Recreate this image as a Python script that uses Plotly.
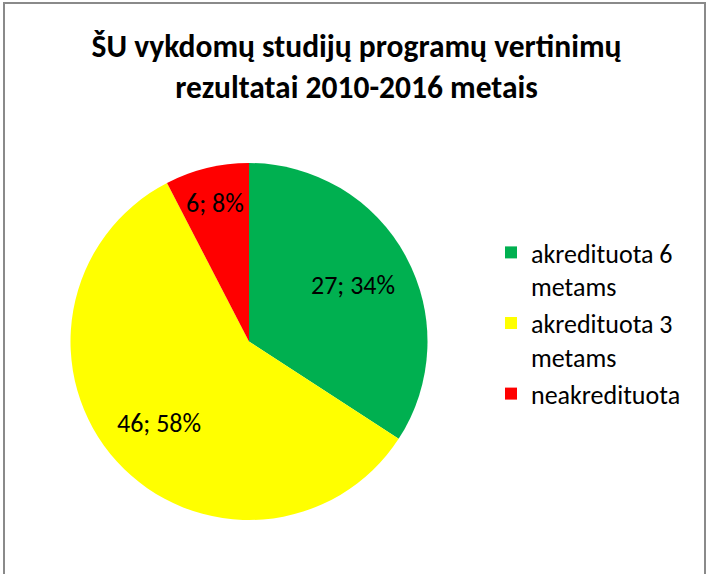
import math
import plotly.graph_objects as go

# Data
categories = ["akredituota 6<br>metams", "akredituota 3<br>metams", "neakredituota"]
values = [27, 46, 6]
colors = ["#00B050", "#FFFF00", "#FF0000"]
title_text = "<b>ŠU vykdomų studijų programų vertinimų<br>rezultatai 2010-2016 metais</b>"

# Styling: radial position of each data label (fraction of the radius)
label_r = [0.66, 0.68, 0.80]

W, H = 709, 574
FONT = "Carlito, Lato, sans-serif"

# Pie placement (pixels)
PCX, PCY, PR = 249.0, 341.5, 178.5
dom_x = [(PCX - PR) / W, (PCX + PR) / W]
dom_y = [1 - (PCY + PR) / H, 1 - (PCY - PR) / H]

fig = go.Figure(go.Pie(
    labels=categories,
    values=values,
    marker=dict(colors=colors, line=dict(width=0)),
    sort=False,
    direction="clockwise",
    rotation=0,
    textinfo="none",
    domain=dict(x=dom_x, y=dom_y),
    hoverinfo="label+value+percent",
))

# Data labels "value; percent" placed at each slice's mid angle
total = sum(values)
annotations = []
cum = 0
for v, rf in zip(values, label_r):
    mid = (cum + v / 2) / total * 2 * math.pi
    cum += v
    px = PCX + math.sin(mid) * PR * rf
    py = PCY - math.cos(mid) * PR * rf
    annotations.append(dict(
        x=px / W, y=1 - py / H, xref="paper", yref="paper",
        text=f"{v}; {round(100 * v / total)}%", showarrow=False,
        xanchor="center", yanchor="middle",
        font=dict(family=FONT, size=26, color="black")))

fig.update_layout(
    width=W, height=H,
    margin=dict(l=0, r=0, t=0, b=0),
    paper_bgcolor="white",
    plot_bgcolor="white",
    font=dict(family=FONT, color="black"),
    title=dict(text=title_text, x=356.5 / W, xanchor="center",
               y=1 - 57 / H, yanchor="middle", yref="container",
               font=dict(family=FONT, size=31.5, color="black")),
    showlegend=True,
    annotations=annotations,
    legend=dict(x=491 / W, xanchor="left", y=1 - 229 / H, yanchor="top",
                valign="top",
                font=dict(family=FONT, size=26, color="black"),
                bgcolor="rgba(0,0,0,0)", itemclick=False),
    shapes=[dict(type="rect", xref="paper", yref="paper",
                 x0=4 / W, x1=705 / W, y0=-0.05, y1=1 - 3 / H,
                 line=dict(color="#8a8a8a", width=2), fillcolor="rgba(0,0,0,0)",
                 layer="below")],
)

fig.write_html("out.html",
               config={"displayModeBar": False},
               post_script="document.body.style.margin='0';document.body.style.overflow='hidden';")
